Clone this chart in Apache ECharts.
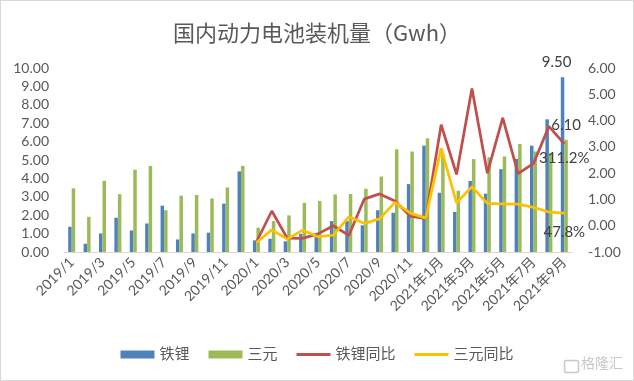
<!DOCTYPE html>
<html>
<head>
<meta charset="utf-8">
<script src="https://cdn.jsdelivr.net/npm/echarts@6/dist/echarts.min.js"></script>
<style>
html,body{margin:0;padding:0;background:#fff;}
#c{width:634px;height:381px;box-sizing:border-box;border:1px solid #d9d9d9;}
</style>
</head>
<body>
<div id="c"></div>
<script>
var categories = ['2019/1','2019/2','2019/3','2019/4','2019/5','2019/6','2019/7','2019/8','2019/9','2019/10','2019/11','2019/12',
  '2020/1','2020/2','2020/3','2020/4','2020/5','2020/6','2020/7','2020/8','2020/9','2020/10','2020/11','2020/12',
  '2021年1月','2021年2月','2021年3月','2021年4月','2021年5月','2021年6月','2021年7月','2021年8月','2021年9月'];
var lfp = [1.37,0.45,1.01,1.86,1.17,1.55,2.52,0.68,1.01,1.05,2.63,4.38,
  0.63,0.72,0.58,0.99,0.93,1.68,1.68,1.45,2.27,2.13,3.69,5.78,
  3.22,2.18,3.86,3.17,4.50,5.06,5.78,7.21,9.50];
var ncm = [3.46,1.91,3.87,3.14,4.47,4.68,2.27,3.06,3.10,2.91,3.51,4.68,
  1.32,1.68,1.99,2.67,2.77,3.13,3.15,3.44,4.10,5.58,5.46,6.18,
  5.30,3.33,5.05,5.15,5.19,5.87,5.46,5.35,6.10];
var lfpYoY = [null,null,null,null,null,null,null,null,null,null,null,null,
  -0.62,0.56,-0.47,-0.48,-0.31,0.00,-0.37,1.01,1.21,0.94,0.36,0.27,
  3.84,1.95,5.22,2.00,4.10,1.98,2.37,3.78,3.112];
var ncmYoY = [null,null,null,null,null,null,null,null,null,null,null,null,
  -0.64,-0.16,-0.51,-0.17,-0.42,-0.36,0.34,0.09,0.26,0.89,0.48,0.29,
  2.95,0.87,1.48,0.85,0.83,0.82,0.70,0.52,0.478];

var FONT = 'Lato, "Noto Sans CJK SC", sans-serif';
var TXT = '#595959';

function withLastLabel(arr, label, extra) {
  return arr.map(function (v, i) {
    if (i === arr.length - 1) {
      var o = { value: v, label: label };
      if (extra) for (var k in extra) o[k] = extra[k];
      return o;
    }
    return v;
  });
}

var chart = echarts.init(document.getElementById('c'));
chart.setOption({
  animation: false,
  title: {
    text: '国内动力电池装机量（Gwh）',
    left: 'center',
    top: 16,
    textStyle: { color: TXT, fontSize: 22, fontWeight: 'normal', fontFamily: '"Noto Sans CJK SC", sans-serif' }
  },
  legend: {
    bottom: 13,
    left: 'center',
    itemWidth: 34,
    itemHeight: 8,
    itemGap: 19,
    textStyle: { color: TXT, fontSize: 15, fontFamily: FONT },
    data: [
      { name: '铁锂', icon: 'rect' },
      { name: '三元', icon: 'rect' },
      { name: '铁锂同比', icon: 'path://M0,0H34V3H0Z' },
      { name: '三元同比', icon: 'path://M0,0H34V3H0Z' }
    ]
  },
  grid: { left: 63, right: 61, top: 67, bottom: 128, containLabel: false },
  xAxis: {
    type: 'category',
    data: categories,
    axisLine: { lineStyle: { color: '#d9d9d9', width: 1 } },
    axisTick: { show: false },
    axisLabel: { interval: 1, rotate: 45, color: TXT, fontSize: 14, fontFamily: FONT, margin: 8 }
  },
  yAxis: [
    {
      type: 'value', min: 0, max: 10, interval: 1,
      splitLine: { show: false },
      axisLine: { show: false }, axisTick: { show: false },
      axisLabel: { color: TXT, fontSize: 14, fontFamily: FONT, margin: 15, formatter: function (v) { return v.toFixed(2); } }
    },
    {
      type: 'value', min: -1, max: 6, interval: 1,
      splitLine: { show: false },
      axisLine: { show: false }, axisTick: { show: false },
      axisLabel: { color: TXT, fontSize: 14, fontFamily: FONT, margin: 16, formatter: function (v) { return v.toFixed(2); } }
    }
  ],
  series: [
    {
      name: '铁锂', type: 'bar', yAxisIndex: 0, barWidth: 3.5, barGap: '0%',
      itemStyle: { color: '#4f81bd' },
      data: withLastLabel(lfp, { show: true, position: 'top', distance: 8, offset: [-6, 0], color: '#404040', fontSize: 15, fontFamily: FONT, formatter: function (p) { return p.value.toFixed(2); } })
    },
    {
      name: '三元', type: 'bar', yAxisIndex: 0, barWidth: 3.5, barGap: '0%',
      itemStyle: { color: '#9bbb59' },
      data: withLastLabel(ncm, { show: true, position: 'top', distance: 7, offset: [0, 0], color: '#404040', fontSize: 15, fontFamily: FONT, formatter: function (p) { return p.value.toFixed(2); } })
    },
    {
      name: '铁锂同比', type: 'line', yAxisIndex: 1, symbol: 'circle', symbolSize: 0.5, showSymbol: true, z: 5,
      lineStyle: { color: '#c0504d', width: 2.75 }, itemStyle: { color: '#c0504d' },
      labelLayout: { hideOverlap: false },
      data: withLastLabel(lfpYoY, { show: true, position: 'bottom', distance: 6, offset: [-2, 0], color: '#404040', fontSize: 15, fontFamily: FONT, formatter: function (p) { return (p.value * 100).toFixed(1) + '%'; } })
    },
    {
      name: '三元同比', type: 'line', yAxisIndex: 1, symbol: 'circle', symbolSize: 0.5, showSymbol: true, z: 6,
      lineStyle: { color: '#ffc000', width: 2.75 }, itemStyle: { color: '#ffc000' },
      labelLayout: { hideOverlap: false },
      data: withLastLabel(ncmYoY, { show: true, position: 'bottom', distance: 11, offset: [-2, 0], color: '#404040', fontSize: 15, fontFamily: FONT, formatter: function (p) { return (p.value * 100).toFixed(1) + '%'; } })
    }
  ],
  graphic: [
    { type: 'rect', left: 561, top: 357, shape: { width: 14, height: 12, r: 2 }, style: { fill: 'none', stroke: '#c8c8c8', lineWidth: 1.5 } },
    { type: 'text', left: 580, top: 355, style: { text: '格隆汇', fill: '#c8c8c8', font: '14px "Noto Sans CJK SC"' } }
  ]
});
</script>
</body>
</html>
